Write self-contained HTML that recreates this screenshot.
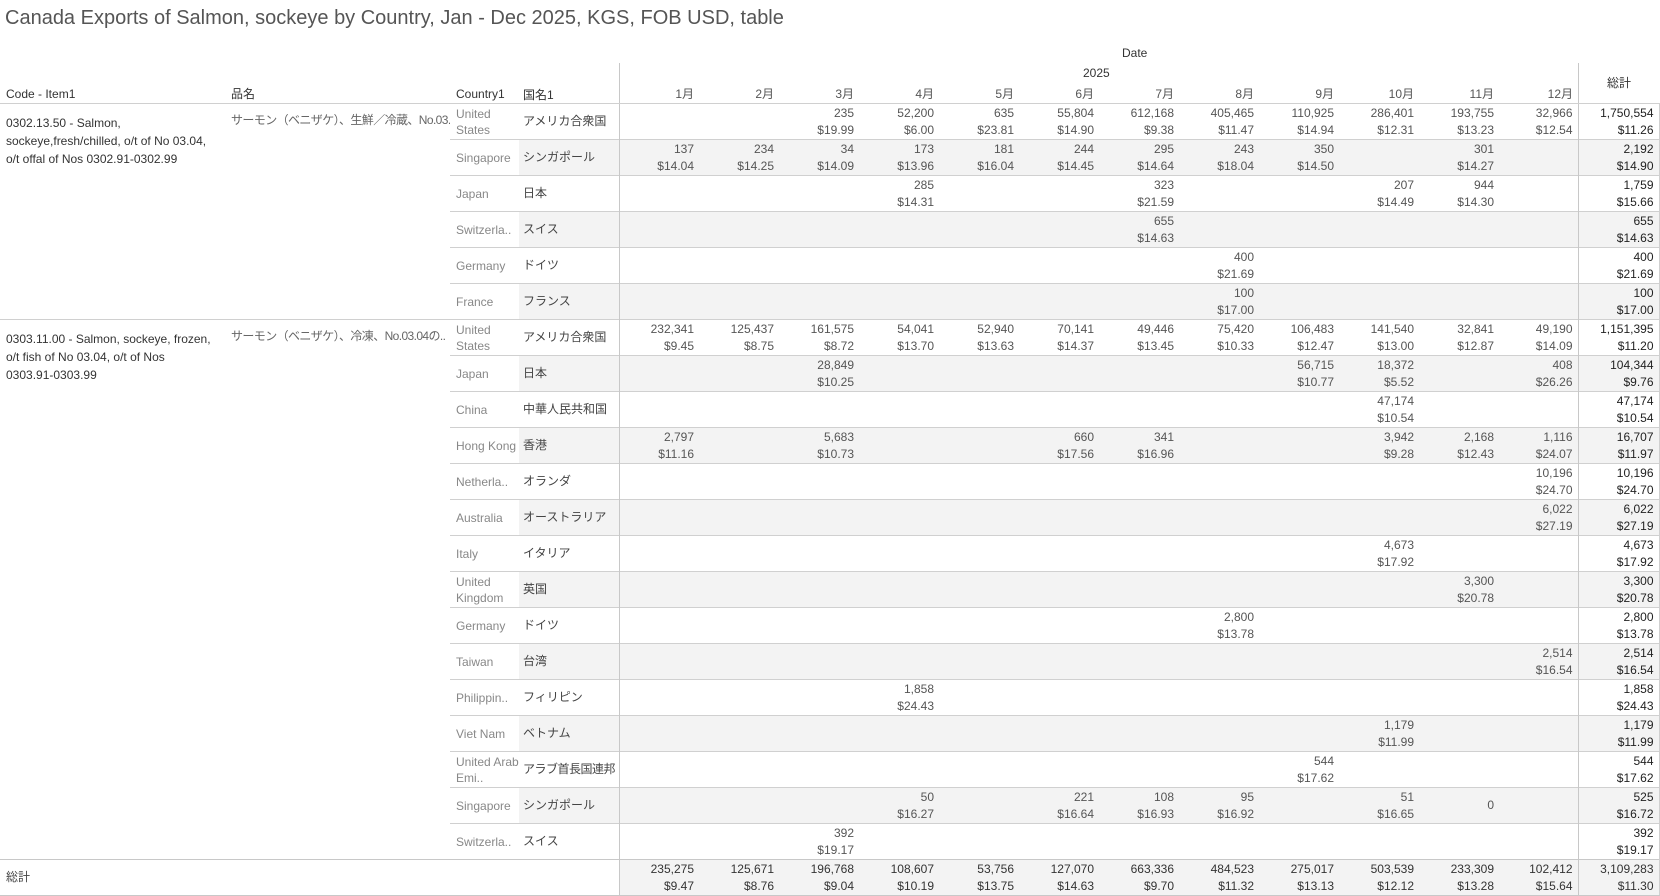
<!DOCTYPE html>
<html><head><meta charset="utf-8">
<style>
body{margin:0;width:1660px;height:896px;background:#fff;font-family:"Liberation Sans","Noto Sans CJK JP",sans-serif;color:#555;overflow:hidden;position:relative}
.t{position:absolute;left:5px;top:7px;font-size:20px;color:#555}
.h{position:absolute;font-size:12px;color:#333}
table{position:absolute;left:0;top:103px;width:1659px;border-collapse:collapse;table-layout:fixed;font-size:12px}
td{box-sizing:border-box;height:36px;padding:0;vertical-align:middle;line-height:17px;overflow:hidden;white-space:nowrap}
td.c{vertical-align:top;padding:10px 0 0 6px;color:#333;white-space:normal;line-height:18px;border-top:1px solid #d0d0d0}
td.n{vertical-align:top;padding:8px 0 0 6px;color:#666;border-top:1px solid #d0d0d0;letter-spacing:-0.6px}
td.k{padding-left:6px;color:#888;line-height:16px;white-space:normal;border-top:1px solid #d0d0d0}
td.j{padding-left:4px;color:#444;border-top:1px solid #d0d0d0}
td.m{text-align:right;padding-right:5px;border-top:1px solid #d0d0d0}
td.f{border-left:1px solid #c8c8c8}
td.s{text-align:right;padding-right:5px;color:#222;border-left:1px solid #c8c8c8;border-top:1px solid #d0d0d0;border-right:1px solid #d0d0d0}
tr.b td.j,tr.b td.m,tr.b td.s{background:#f3f3f3}
tr.tot td{background:#fff;border-top:1px solid #c8c8c8;border-bottom:1px solid #c8c8c8}
tr.tot td.m,tr.tot td.s{background:#f3f3f3;color:#333}
</style></head><body>
<div class="t">Canada Exports of Salmon, sockeye by Country, Jan - Dec 2025, KGS, FOB USD, table</div>
<div class="h" style="left:1122px;top:46px">Date</div>
<div class="h" style="left:1083px;top:66px">2025</div>
<div style="position:absolute;left:619px;top:63px;width:1px;height:40px;background:#c8c8c8"></div>
<div style="position:absolute;left:1578px;top:63px;width:1px;height:40px;background:#c8c8c8"></div>
<div class="h" style="left:6px;top:87px">Code - Item1</div>
<div class="h" style="left:231px;top:85px">品名</div>
<div class="h" style="left:456px;top:87px">Country1</div>
<div class="h" style="left:523px;top:86px">国名1</div>
<div class="h" style="left:1607px;top:74px">総計</div>
<div style="position:absolute;left:619px;top:85px;width:959px;font-size:12px;color:#555;display:flex">
<span style="width:75px;text-align:right">1月</span><span style="width:80px;text-align:right">2月</span><span style="width:80px;text-align:right">3月</span><span style="width:80px;text-align:right">4月</span><span style="width:80px;text-align:right">5月</span><span style="width:80px;text-align:right">6月</span><span style="width:80px;text-align:right">7月</span><span style="width:80px;text-align:right">8月</span><span style="width:80px;text-align:right">9月</span><span style="width:80px;text-align:right">10月</span><span style="width:80px;text-align:right">11月</span><span style="width:79px;text-align:right">12月</span></div>
<table>
<colgroup><col style="width:225px"><col style="width:225px"><col style="width:69px"><col style="width:100px"><col style="width:80px"><col style="width:80px"><col style="width:80px"><col style="width:80px"><col style="width:80px"><col style="width:80px"><col style="width:80px"><col style="width:80px"><col style="width:80px"><col style="width:80px"><col style="width:80px"><col style="width:79px"><col style="width:81px"></colgroup>
<tr><td class="c" rowspan="6">0302.13.50 - Salmon,<br>sockeye,fresh/chilled, o/t of No 03.04,<br>o/t offal of Nos 0302.91-0302.99</td><td class="n" rowspan="6">サーモン（ベニザケ）、生鮮／冷蔵、No.03..</td><td class="k">United States</td><td class="j">アメリカ合衆国</td><td class="m f"></td><td class="m"></td><td class="m">235<br>$19.99</td><td class="m">52,200<br>$6.00</td><td class="m">635<br>$23.81</td><td class="m">55,804<br>$14.90</td><td class="m">612,168<br>$9.38</td><td class="m">405,465<br>$11.47</td><td class="m">110,925<br>$14.94</td><td class="m">286,401<br>$12.31</td><td class="m">193,755<br>$13.23</td><td class="m">32,966<br>$12.54</td><td class="s">1,750,554<br>$11.26</td></tr>
<tr class="b"><td class="k">Singapore</td><td class="j">シンガポール</td><td class="m f">137<br>$14.04</td><td class="m">234<br>$14.25</td><td class="m">34<br>$14.09</td><td class="m">173<br>$13.96</td><td class="m">181<br>$16.04</td><td class="m">244<br>$14.45</td><td class="m">295<br>$14.64</td><td class="m">243<br>$18.04</td><td class="m">350<br>$14.50</td><td class="m"></td><td class="m">301<br>$14.27</td><td class="m"></td><td class="s">2,192<br>$14.90</td></tr>
<tr><td class="k">Japan</td><td class="j">日本</td><td class="m f"></td><td class="m"></td><td class="m"></td><td class="m">285<br>$14.31</td><td class="m"></td><td class="m"></td><td class="m">323<br>$21.59</td><td class="m"></td><td class="m"></td><td class="m">207<br>$14.49</td><td class="m">944<br>$14.30</td><td class="m"></td><td class="s">1,759<br>$15.66</td></tr>
<tr class="b"><td class="k">Switzerla..</td><td class="j">スイス</td><td class="m f"></td><td class="m"></td><td class="m"></td><td class="m"></td><td class="m"></td><td class="m"></td><td class="m">655<br>$14.63</td><td class="m"></td><td class="m"></td><td class="m"></td><td class="m"></td><td class="m"></td><td class="s">655<br>$14.63</td></tr>
<tr><td class="k">Germany</td><td class="j">ドイツ</td><td class="m f"></td><td class="m"></td><td class="m"></td><td class="m"></td><td class="m"></td><td class="m"></td><td class="m"></td><td class="m">400<br>$21.69</td><td class="m"></td><td class="m"></td><td class="m"></td><td class="m"></td><td class="s">400<br>$21.69</td></tr>
<tr class="b"><td class="k">France</td><td class="j">フランス</td><td class="m f"></td><td class="m"></td><td class="m"></td><td class="m"></td><td class="m"></td><td class="m"></td><td class="m"></td><td class="m">100<br>$17.00</td><td class="m"></td><td class="m"></td><td class="m"></td><td class="m"></td><td class="s">100<br>$17.00</td></tr>
<tr><td class="c" rowspan="15">0303.11.00 - Salmon, sockeye, frozen,<br>o/t fish of No 03.04, o/t of Nos<br>0303.91-0303.99</td><td class="n" rowspan="15">サーモン（ベニザケ）、冷凍、No.03.04の..</td><td class="k">United States</td><td class="j">アメリカ合衆国</td><td class="m f">232,341<br>$9.45</td><td class="m">125,437<br>$8.75</td><td class="m">161,575<br>$8.72</td><td class="m">54,041<br>$13.70</td><td class="m">52,940<br>$13.63</td><td class="m">70,141<br>$14.37</td><td class="m">49,446<br>$13.45</td><td class="m">75,420<br>$10.33</td><td class="m">106,483<br>$12.47</td><td class="m">141,540<br>$13.00</td><td class="m">32,841<br>$12.87</td><td class="m">49,190<br>$14.09</td><td class="s">1,151,395<br>$11.20</td></tr>
<tr class="b"><td class="k">Japan</td><td class="j">日本</td><td class="m f"></td><td class="m"></td><td class="m">28,849<br>$10.25</td><td class="m"></td><td class="m"></td><td class="m"></td><td class="m"></td><td class="m"></td><td class="m">56,715<br>$10.77</td><td class="m">18,372<br>$5.52</td><td class="m"></td><td class="m">408<br>$26.26</td><td class="s">104,344<br>$9.76</td></tr>
<tr><td class="k">China</td><td class="j">中華人民共和国</td><td class="m f"></td><td class="m"></td><td class="m"></td><td class="m"></td><td class="m"></td><td class="m"></td><td class="m"></td><td class="m"></td><td class="m"></td><td class="m">47,174<br>$10.54</td><td class="m"></td><td class="m"></td><td class="s">47,174<br>$10.54</td></tr>
<tr class="b"><td class="k">Hong Kong</td><td class="j">香港</td><td class="m f">2,797<br>$11.16</td><td class="m"></td><td class="m">5,683<br>$10.73</td><td class="m"></td><td class="m"></td><td class="m">660<br>$17.56</td><td class="m">341<br>$16.96</td><td class="m"></td><td class="m"></td><td class="m">3,942<br>$9.28</td><td class="m">2,168<br>$12.43</td><td class="m">1,116<br>$24.07</td><td class="s">16,707<br>$11.97</td></tr>
<tr><td class="k">Netherla..</td><td class="j">オランダ</td><td class="m f"></td><td class="m"></td><td class="m"></td><td class="m"></td><td class="m"></td><td class="m"></td><td class="m"></td><td class="m"></td><td class="m"></td><td class="m"></td><td class="m"></td><td class="m">10,196<br>$24.70</td><td class="s">10,196<br>$24.70</td></tr>
<tr class="b"><td class="k">Australia</td><td class="j">オーストラリア</td><td class="m f"></td><td class="m"></td><td class="m"></td><td class="m"></td><td class="m"></td><td class="m"></td><td class="m"></td><td class="m"></td><td class="m"></td><td class="m"></td><td class="m"></td><td class="m">6,022<br>$27.19</td><td class="s">6,022<br>$27.19</td></tr>
<tr><td class="k">Italy</td><td class="j">イタリア</td><td class="m f"></td><td class="m"></td><td class="m"></td><td class="m"></td><td class="m"></td><td class="m"></td><td class="m"></td><td class="m"></td><td class="m"></td><td class="m">4,673<br>$17.92</td><td class="m"></td><td class="m"></td><td class="s">4,673<br>$17.92</td></tr>
<tr class="b"><td class="k">United Kingdom</td><td class="j">英国</td><td class="m f"></td><td class="m"></td><td class="m"></td><td class="m"></td><td class="m"></td><td class="m"></td><td class="m"></td><td class="m"></td><td class="m"></td><td class="m"></td><td class="m">3,300<br>$20.78</td><td class="m"></td><td class="s">3,300<br>$20.78</td></tr>
<tr><td class="k">Germany</td><td class="j">ドイツ</td><td class="m f"></td><td class="m"></td><td class="m"></td><td class="m"></td><td class="m"></td><td class="m"></td><td class="m"></td><td class="m">2,800<br>$13.78</td><td class="m"></td><td class="m"></td><td class="m"></td><td class="m"></td><td class="s">2,800<br>$13.78</td></tr>
<tr class="b"><td class="k">Taiwan</td><td class="j">台湾</td><td class="m f"></td><td class="m"></td><td class="m"></td><td class="m"></td><td class="m"></td><td class="m"></td><td class="m"></td><td class="m"></td><td class="m"></td><td class="m"></td><td class="m"></td><td class="m">2,514<br>$16.54</td><td class="s">2,514<br>$16.54</td></tr>
<tr><td class="k">Philippin..</td><td class="j">フィリピン</td><td class="m f"></td><td class="m"></td><td class="m"></td><td class="m">1,858<br>$24.43</td><td class="m"></td><td class="m"></td><td class="m"></td><td class="m"></td><td class="m"></td><td class="m"></td><td class="m"></td><td class="m"></td><td class="s">1,858<br>$24.43</td></tr>
<tr class="b"><td class="k">Viet Nam</td><td class="j">ベトナム</td><td class="m f"></td><td class="m"></td><td class="m"></td><td class="m"></td><td class="m"></td><td class="m"></td><td class="m"></td><td class="m"></td><td class="m"></td><td class="m">1,179<br>$11.99</td><td class="m"></td><td class="m"></td><td class="s">1,179<br>$11.99</td></tr>
<tr><td class="k">United Arab Emi..</td><td class="j" style="letter-spacing:-0.5px">アラブ首長国連邦</td><td class="m f"></td><td class="m"></td><td class="m"></td><td class="m"></td><td class="m"></td><td class="m"></td><td class="m"></td><td class="m"></td><td class="m">544<br>$17.62</td><td class="m"></td><td class="m"></td><td class="m"></td><td class="s">544<br>$17.62</td></tr>
<tr class="b"><td class="k">Singapore</td><td class="j">シンガポール</td><td class="m f"></td><td class="m"></td><td class="m"></td><td class="m">50<br>$16.27</td><td class="m"></td><td class="m">221<br>$16.64</td><td class="m">108<br>$16.93</td><td class="m">95<br>$16.92</td><td class="m"></td><td class="m">51<br>$16.65</td><td class="m">0</td><td class="m"></td><td class="s">525<br>$16.72</td></tr>
<tr><td class="k">Switzerla..</td><td class="j">スイス</td><td class="m f"></td><td class="m"></td><td class="m">392<br>$19.17</td><td class="m"></td><td class="m"></td><td class="m"></td><td class="m"></td><td class="m"></td><td class="m"></td><td class="m"></td><td class="m"></td><td class="m"></td><td class="s">392<br>$19.17</td></tr>
<tr class="tot"><td style="padding-left:6px;color:#444">総計</td><td></td><td></td><td></td><td class="m f">235,275<br>$9.47</td><td class="m">125,671<br>$8.76</td><td class="m">196,768<br>$9.04</td><td class="m">108,607<br>$10.19</td><td class="m">53,756<br>$13.75</td><td class="m">127,070<br>$14.63</td><td class="m">663,336<br>$9.70</td><td class="m">484,523<br>$11.32</td><td class="m">275,017<br>$13.13</td><td class="m">503,539<br>$12.12</td><td class="m">233,309<br>$13.28</td><td class="m">102,412<br>$15.64</td><td class="s">3,109,283<br>$11.30</td></tr>
</table>
</body></html>
